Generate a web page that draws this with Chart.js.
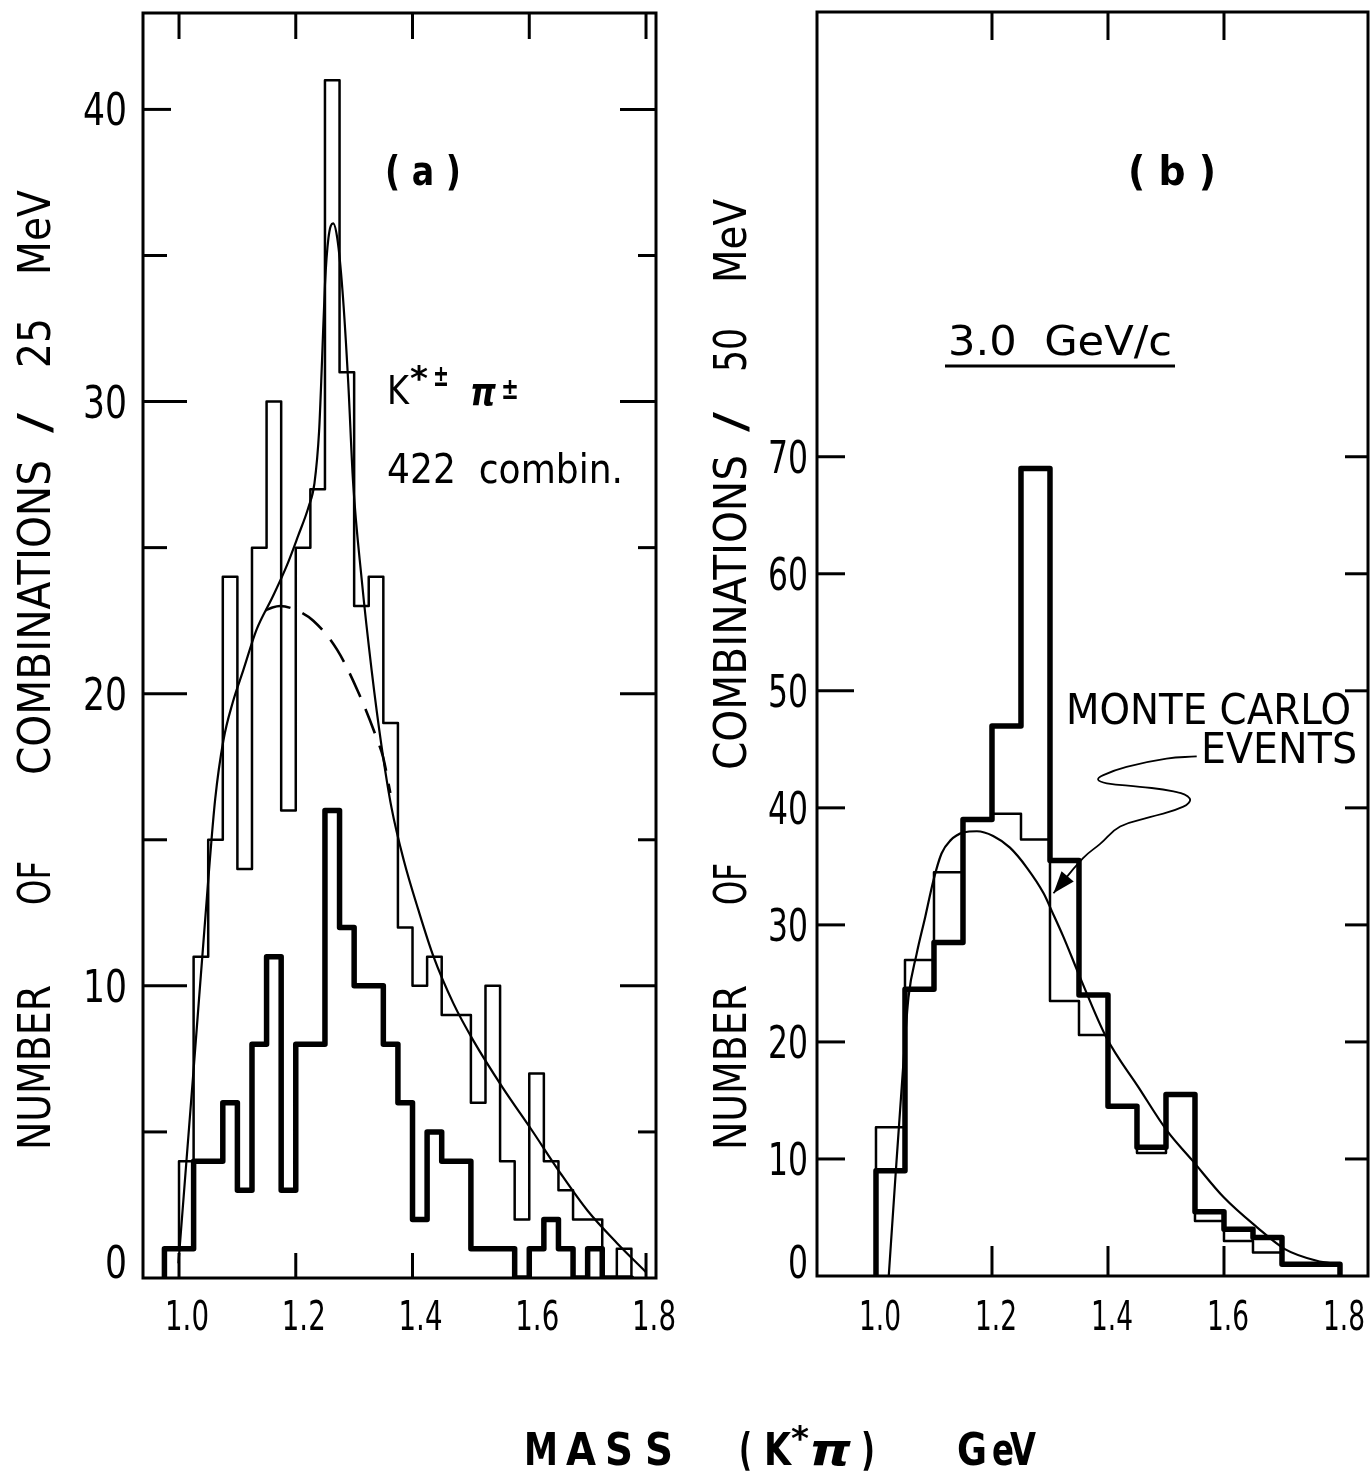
<!DOCTYPE html>
<html>
<head>
<meta charset="utf-8">
<script src="https://cdn.jsdelivr.net/npm/chart.js@4.4.1/dist/chart.umd.min.js"></script>
<style>
html,body{margin:0;padding:0;background:#fff;}
#wrap{position:relative;width:1371px;height:1472px;overflow:hidden;}
#wrap canvas{position:absolute;left:0;top:0;}
</style>
</head>
<body>
<div id="wrap">
<canvas id="ca" width="1371" height="1472"></canvas>
<canvas id="cb" width="1371" height="1472"></canvas>
</div>
<script>
// ===================== DATA =====================
// Panel (a): K*± π± , 25 MeV bins (left edges, GeV)
const binStartsA = [0.975,1.000,1.025,1.050,1.075,1.100,1.125,1.150,1.175,1.200,1.225,1.250,1.275,1.300,1.325,1.350,
                    1.375,1.400,1.425,1.450,1.475,1.500,1.525,1.550,1.575,1.600,1.625,1.650,1.675,1.700,1.725,1.750];
const binWidthA = 0.025;
// all 422 combinations (thin histogram)
const allCombA = [1,4,11,15,24,14,25,30,16,25,27,41,31,23,24,19,12,10,11,9,9,6,10,4,2,7,4,3,2,2,0,1];
// subset (thick histogram)
const subsetA  = [1,1,4,4,6,3,8,11,3,8,8,16,12,10,10,8,6,2,5,4,4,1,1,1,0,1,2,1,0,1,0,0];
// fitted curve (solid)
const fitMassA = [0.999,1.026,1.050,1.062,1.076,1.092,1.110,1.133,1.160,1.185,1.204,1.222,1.232,1.240,1.245,1.250,1.256,
                  1.264,1.271,1.280,1.290,1.298,1.313,1.330,1.347,1.364,1.385,1.410,1.436,1.470,1.505,1.555,1.603,1.653,
                  1.700,1.750,1.800];
const fitValA  = [0.5,7.4,13.6,16.4,18.4,19.7,20.8,22.2,23.3,24.4,25.4,26.4,27.2,29.0,31.4,34.0,35.6,
                  36.1,35.6,33.8,30.6,27.3,23.9,20.8,18.2,16.1,14.3,12.6,11.0,9.4,8.1,6.5,5.1,3.6,
                  2.3,1.2,0.2];
// background curve (dashed)
const bgMassA = [1.148,1.160,1.173,1.196,1.230,1.271,1.306,1.340,1.350,1.362];
const bgValA  = [22.85,22.95,23.0,22.9,22.5,21.5,20.1,18.4,17.8,16.6];

// Panel (b): 3.0 GeV/c , 50 MeV bins
const binStartsB = [1.00,1.05,1.10,1.15,1.20,1.25,1.30,1.35,1.40,1.45,1.50,1.55,1.60,1.65,1.70,1.75];
const binWidthB = 0.05;
const dataB       = [9,24.5,28.5,39,47,69,35.5,24,14.5,11,15.5,5.5,4,3.3,1,1];
const monteCarloB = [12.7,27,34.5,39,39.5,37.3,23.5,20.6,14.5,10.5,15.5,4.7,3,2,1,1];
const fitMassB = [1.022,1.034,1.046,1.056,1.070,1.085,1.099,1.113,1.128,1.151,1.174,1.202,1.231,1.260,1.289,1.303,1.323,
                  1.352,1.397,1.453,1.502,1.545,1.600,1.656,1.705,1.760,1.798];
const fitValB  = [0,8.8,17.3,23.8,27.5,30.7,33.8,36.1,37.2,37.9,38.0,37.6,36.6,34.9,32.7,31.2,29.0,
                  25.5,20.4,16.1,12.4,9.9,6.7,4.2,2.3,1.3,1.0];
// leader line of the "MONTE CARLO EVENTS" label (data coordinates)
const leaderMassB = [1.553,1.501,1.432,1.392,1.383,1.398,1.455,1.513,1.541,1.530,1.472,1.421,1.386,1.357,1.306];
const leaderValB  = [44.4,44.2,43.5,42.8,42.4,42.1,41.8,41.4,40.8,40.1,39.2,38.4,36.9,35.7,32.7];

// ticks
const xTickVals   = [1.0,1.2,1.4,1.6,1.8];
const xTickLabels = ['1.0','1.2','1.4','1.6','1.8'];
const yTickValsA  = [0,10,20,30,40];
const yMinorA     = [5,15,25,35];
const yTickValsB  = [0,10,20,30,40,50,60,70];
const xTopTicksB  = [1.2,1.4,1.6];

// ===================== HELPERS =====================
const FONT = "'DejaVu Sans','Liberation Sans',sans-serif";
function histPoints(starts, vals, width) {
  const pts = [{x: starts[0], y: 0}];
  starts.forEach((s, i) => pts.push({x: s, y: vals[i]}));
  pts.push({x: starts[starts.length - 1] + width, y: 0});
  return pts;
}
function zipXY(xs, ys) { return xs.map((x, i) => ({x: x, y: ys[i]})); }

function txt(ctx, s, x, baseY, size, o) {
  o = o || {};
  ctx.save();
  ctx.font = (o.italic ? 'italic ' : '') + (o.bold ? 'bold ' : '') + size + 'px ' + FONT;
  ctx.fillStyle = '#000';
  ctx.textBaseline = 'alphabetic';
  const w = ctx.measureText(s).width;
  const sx = o.width ? o.width / w : 1;
  ctx.translate(x, baseY);
  if (o.rot) ctx.rotate(o.rot);
  ctx.scale(sx, 1);
  ctx.textAlign = o.align || 'left';
  ctx.fillText(s, 0, 0);
  ctx.restore();
}
function seg(ctx, x1, y1, x2, y2) { ctx.beginPath(); ctx.moveTo(x1, y1); ctx.lineTo(x2, y2); ctx.stroke(); }
function frame(ctx, a) {
  ctx.save(); ctx.strokeStyle = '#000'; ctx.lineWidth = 3;
  ctx.strokeRect(a.left, a.top, a.right - a.left, a.bottom - a.top);
  ctx.restore();
}

function histDS(pts, w) {
  return {data: pts, stepped: true, borderColor: '#000', borderWidth: w, pointRadius: 0,
          fill: false, borderJoinStyle: 'round', borderCapStyle: 'round'};
}
function curveDS(pts, w, dash) {
  return {data: pts, borderColor: '#000', borderWidth: w, pointRadius: 0, fill: false,
          tension: 0.4, cubicInterpolationMode: 'monotone', borderDash: dash || []};
}
function axes(xmin, xmax, ymax, yWidth, xHeight) {
  return {
    x: {type: 'linear', min: xmin, max: xmax,
        afterBuildTicks: s => { s.ticks = xTickVals.map(v => ({value: v})); },
        ticks: {display: false}, grid: {display: false}, border: {display: false},
        afterFit: s => { s.height = xHeight; }},
    y: {type: 'linear', min: 0, max: ymax,
        ticks: {display: false}, grid: {display: false}, border: {display: false},
        afterFit: s => { s.width = yWidth; }}
  };
}
const common = {
  responsive: false, animation: false, devicePixelRatio: 1,
  plugins: {legend: {display: false}, tooltip: {enabled: false}, title: {display: false}},
  events: []
};

// ===================== PANEL (a) =====================
const decorA = {
  id: 'decorA',
  beforeDraw(chart) {
    const c = chart.ctx; c.save(); c.fillStyle = '#fff'; c.fillRect(0, 0, chart.width, chart.height); c.restore();
  },
  afterDraw(chart) {
    const {ctx, chartArea: a, scales: {x, y}} = chart;
    frame(ctx, a);
    ctx.save(); ctx.strokeStyle = '#000'; ctx.lineWidth = 3;
    yTickValsA.concat(yMinorA).forEach(v => {
      if (v === 0) return;
      const py = y.getPixelForValue(v), major = v % 10 === 0;
      seg(ctx, a.left, py, a.left + (major ? (v === 40 ? 28 : 44) : 24), py);
      seg(ctx, a.right, py, a.right - (major ? 36 : 18), py);
    });
    xTickVals.forEach(v => {
      const px = x.getPixelForValue(v);
      seg(ctx, px, a.top, px, a.top + 26);
      seg(ctx, px, a.bottom, px, a.bottom - 25);
    });
    ctx.restore();
    // tick labels
    yTickValsA.forEach(v => {
      const py = Math.min(y.getPixelForValue(v), a.bottom - 16);
      const s = String(v);
      txt(ctx, s, a.left - 16, py + 16, 44, {align: 'right', width: s.length * 22});
    });
    xTickVals.forEach((v, i) => {
      txt(ctx, xTickLabels[i], x.getPixelForValue(v) + 8, 1330, 41, {align: 'center', width: 44});
    });
    // y axis title (rotated)
    const R = -Math.PI / 2;
    txt(ctx, 'NUMBER', 50, 1150, 44, {rot: R, width: 165});
    txt(ctx, 'OF', 50, 905, 44, {rot: R, width: 44});
    txt(ctx, 'COMBINATIONS', 50, 775, 44, {rot: R, width: 315});
    txt(ctx, '/', 50, 433, 44, {rot: R, width: 20});
    txt(ctx, '25', 50, 368, 44, {rot: R, width: 50});
    txt(ctx, 'MeV', 50, 275, 44, {rot: R, width: 85});
    // annotations
    txt(ctx, '( a )', 385, 185, 40, {bold: true, width: 76});
    txt(ctx, 'K', 387, 404, 39, {width: 22});
    txt(ctx, '*', 410, 390, 34, {bold: true, width: 18});
    txt(ctx, '±', 433, 386, 30, {bold: true, width: 16});
    txt(ctx, 'π', 470, 405, 38, {italic: true, bold: true, width: 26});
    txt(ctx, '±', 501, 399, 30, {bold: true, width: 18});
    txt(ctx, '422  combin.', 387, 483, 40, {width: 236});
  }
};

new Chart(document.getElementById('ca'), {
  type: 'line',
  data: {datasets: [
    Object.assign(histDS(histPoints(binStartsA, allCombA, binWidthA), 2.5), {label: 'All K*±π± combinations'}),
    Object.assign(histDS(histPoints(binStartsA, subsetA, binWidthA), 5.5), {label: 'Subset'}),
    Object.assign(curveDS(zipXY(fitMassA, fitValA), 2.2), {label: 'Fit'}),
    Object.assign(curveDS(zipXY(bgMassA, bgValA), 2.6, [26, 13]), {label: 'Background'})
  ]},
  options: Object.assign({}, common, {
    layout: {padding: {left: 0, right: 715, top: 13, bottom: 134}},
    scales: axes(0.9383, 1.8171, 43.3, 143, 60)
  }),
  plugins: [decorA]
});

// ===================== PANEL (b) =====================
const decorB = {
  id: 'decorB',
  afterDraw(chart) {
    const {ctx, chartArea: a, scales: {x, y}} = chart;
    frame(ctx, a);
    ctx.save(); ctx.strokeStyle = '#000'; ctx.lineWidth = 3;
    yTickValsB.forEach(v => {
      if (v === 0) return;
      const py = y.getPixelForValue(v);
      seg(ctx, a.left, py, a.left + (v === 50 ? 37 : 28), py);
      seg(ctx, a.right, py, a.right - 23, py);
    });
    xTopTicksB.forEach(v => {
      const px = x.getPixelForValue(v);
      seg(ctx, px, a.top, px, a.top + 28);
      seg(ctx, px, a.bottom, px, a.bottom - 30);
    });
    ctx.restore();
    yTickValsB.forEach(v => {
      const py = Math.min(y.getPixelForValue(v), a.bottom - 14);
      const s = String(v);
      txt(ctx, s, a.left - 9, py + 16, 44, {align: 'right', width: s.length * 20});
    });
    xTickVals.forEach((v, i) => {
      txt(ctx, xTickLabels[i], x.getPixelForValue(v) + 4, 1330, 41, {align: 'center', width: 42});
    });
    const R = -Math.PI / 2;
    txt(ctx, 'NUMBER', 746, 1150, 44, {rot: R, width: 165});
    txt(ctx, 'OF', 746, 905, 44, {rot: R, width: 42});
    txt(ctx, 'COMBINATIONS', 746, 770, 44, {rot: R, width: 315});
    txt(ctx, '/', 746, 432, 44, {rot: R, width: 20});
    txt(ctx, '50', 746, 372, 44, {rot: R, width: 44});
    txt(ctx, 'MeV', 746, 283, 44, {rot: R, width: 84});
    txt(ctx, '( b )', 1128, 185, 40, {bold: true, width: 88});
    txt(ctx, '3.0  GeV/c', 948, 355, 40, {width: 224});
    ctx.save(); ctx.strokeStyle = '#000'; ctx.lineWidth = 3; seg(ctx, 945, 366, 1175, 366); ctx.restore();
    txt(ctx, 'MONTE CARLO', 1066, 724, 42, {width: 285});
    txt(ctx, 'EVENTS', 1201, 763, 42, {width: 156});
    // arrow head on leader line
    const meta = chart.getDatasetMeta(3).data;
    const p1 = meta[meta.length - 2], p2 = meta[meta.length - 1];
    const ang = Math.atan2(p2.y - p1.y, p2.x - p1.x);
    ctx.save(); ctx.fillStyle = '#000'; ctx.translate(p2.x, p2.y); ctx.rotate(ang);
    ctx.beginPath(); ctx.moveTo(0, 0); ctx.lineTo(-22, -8); ctx.lineTo(-22, 8); ctx.closePath(); ctx.fill();
    ctx.restore();
    // global x-axis title
    txt(ctx, 'M', 524, 1465, 44, {bold: true, width: 34});
    txt(ctx, 'A', 566, 1465, 44, {bold: true, width: 30});
    txt(ctx, 'S', 605, 1465, 44, {bold: true, width: 28});
    txt(ctx, 'S', 645, 1465, 44, {bold: true, width: 28});
    txt(ctx, '(', 739, 1465, 44, {bold: true, width: 13});
    txt(ctx, 'K', 764, 1465, 44, {bold: true, width: 27});
    txt(ctx, '*', 791, 1450, 34, {bold: true, width: 18});
    txt(ctx, 'π', 809, 1465, 44, {bold: true, italic: true, width: 42});
    txt(ctx, ')', 861, 1465, 44, {bold: true, width: 14});
    txt(ctx, 'G', 957, 1465, 44, {bold: true, width: 30});
    txt(ctx, 'e', 992, 1465, 44, {bold: true, width: 22});
    txt(ctx, 'V', 1010, 1465, 44, {bold: true, width: 26});
  }
};

new Chart(document.getElementById('cb'), {
  type: 'line',
  data: {datasets: [
    Object.assign(histDS(histPoints(binStartsB, monteCarloB, binWidthB), 2.5), {label: 'Monte Carlo events'}),
    Object.assign(histDS(histPoints(binStartsB, dataB, binWidthB), 5.5), {label: 'Data'}),
    Object.assign(curveDS(zipXY(fitMassB, fitValB), 2.2), {label: 'Curve'}),
    {label: 'leader', data: zipXY(leaderMassB, leaderValB), borderColor: '#000', borderWidth: 1.8,
     pointRadius: 0, fill: false, tension: 0.45, clip: false}
  ]},
  options: Object.assign({}, common, {
    layout: {padding: {left: 0, right: 3, top: 12, bottom: 136}},
    scales: axes(0.8983, 1.8483, 108, 817, 60)
  })
  ,plugins: [decorB]
});
</script>
</body>
</html>
